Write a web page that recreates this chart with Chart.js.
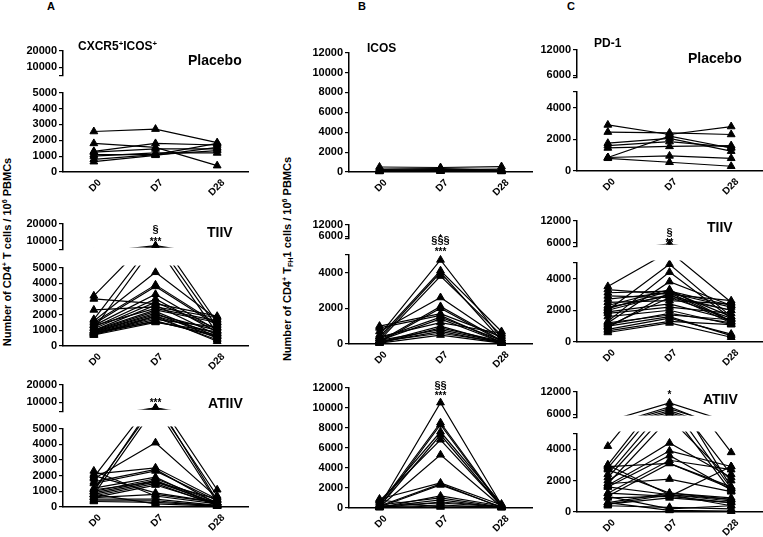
<!DOCTYPE html>
<html><head><meta charset="utf-8">
<script src="https://cdn.jsdelivr.net/npm/chart.js@4.4.1/dist/chart.umd.min.js"></script>
<style>
html,body{margin:0;padding:0;background:#fff;width:763px;height:537px;overflow:hidden;position:relative;
  font-family:Arial,"Liberation Sans",sans-serif;font-weight:bold;color:#000}
canvas{position:absolute}
.t{position:absolute;white-space:nowrap;line-height:1;color:#000}
.c{transform:translateX(-50%)}
sup{font-size:0.65em;vertical-align:0;position:relative;top:-0.55em}
sub{font-size:0.65em;vertical-align:0;position:relative;top:0.3em}
</style></head><body>
<script>
// time points
const days = ['D0', 'D7', 'D28'];

// one row per subject: [D0, D7, D28]
// A: CXCR5+ICOS+
const aPlacebo = [
  [2550, 2700, 1850], [1800, 1550, 400], [1300, 1800, 1700], [1250, 1450, 1450],
  [1100, 1100, 1800], [1000, 1200, 1200], [800, 1100, 1350], [650, 1050, 1550]
];
const aTIIV = [
  [3200, 7200, 1500], [3000, 2700, 1900], [2300, 2500, 1800], [1700, 6800, 1200],
  [1600, 4700, 1700], [1500, 3900, 1400], [1400, 3800, 1300], [1300, 3300, 1000],
  [1200, 3000, 900], [1100, 2800, 1100], [1100, 6500, 800], [1000, 2600, 700],
  [1000, 2300, 1500], [950, 2200, 600], [900, 2100, 500], [900, 2000, 1000],
  [850, 1900, 800], [800, 1800, 400], [800, 1700, 1200], [750, 1600, 600],
  [700, 1500, 900], [700, 1900, 300], [1300, 2400, 1600], [850, 1550, 700]
];
const aATIIV = [
  [1900, 7000, 1100], [1100, 6600, 700], [1000, 6800, 400], [800, 6400, 300],
  [1800, 4100, 600], [2300, 700, 200], [2100, 2500, 500], [2000, 900, 300],
  [1600, 2400, 200], [1500, 2300, 400], [1200, 1900, 100], [1000, 1800, 300],
  [900, 1700, 150], [800, 1600, 250], [700, 1500, 100], [600, 1400, 200],
  [500, 500, 100], [400, 400, 50], [350, 300, 100], [800, 200, 50],
  [1100, 1600, 500], [600, 800, 300]
];
// B: ICOS (TFH1)
const bPlacebo = [
  [500, 450, 550], [300, 350, 200], [200, 250, 300], [150, 150, 100],
  [100, 100, 150], [50, 80, 50], [100, 200, 100], [250, 300, 200]
];
const bTIIV = [
  [500, 4700, 300], [400, 4100, 700], [300, 4000, 200], [200, 3800, 500],
  [700, 2600, 300], [150, 2100, 200], [100, 2000, 150], [1000, 1700, 400],
  [900, 1600, 100], [300, 1500, 200], [200, 1400, 100], [100, 1000, 50],
  [50, 900, 150], [200, 800, 100], [100, 700, 50], [150, 600, 100],
  [50, 500, 50], [400, 1200, 600]
];
const bATIIV = [
  [200, 10500, 300], [300, 8500, 200], [100, 8300, 100], [500, 7600, 400],
  [150, 7300, 150], [700, 6800, 200], [100, 5300, 100], [900, 2500, 300],
  [200, 2400, 50], [100, 2300, 100], [50, 1200, 200], [300, 1000, 100],
  [100, 800, 50], [50, 600, 150], [200, 500, 100], [100, 300, 50],
  [50, 200, 100], [800, 100, 50]
];
// C: PD-1
const cPlacebo = [
  [2900, 2300, 2800], [2450, 2400, 2300], [1750, 2050, 1250], [1600, 1850, 1500],
  [1450, 1550, 1600], [850, 2200, 1450], [850, 950, 800], [800, 550, 300]
];
const cTIIV = [
  [3500, 5700, 2500], [3300, 3000, 2600], [3100, 3200, 2300], [2900, 2800, 1500],
  [2700, 3100, 2200], [2500, 2600, 2400], [2300, 3300, 1300], [2200, 2900, 2000],
  [2000, 4900, 1600], [2000, 3000, 1200], [1900, 2400, 1400], [1800, 2200, 1800],
  [1600, 2000, 1100], [1300, 4400, 1500], [1200, 3800, 2300], [1100, 1800, 1200],
  [1000, 1600, 400], [900, 3100, 1300], [800, 1500, 500], [700, 1300, 1100],
  [600, 1200, 300], [1000, 2800, 2000], [1200, 1700, 1400], [2100, 3200, 1600]
];
const cATIIV = [
  [4200, 9000, 3800], [3000, 8000, 1600], [2800, 7500, 2400], [2400, 7000, 1500],
  [2200, 6500, 1300], [1800, 6000, 2000], [2000, 4400, 2200], [1700, 3900, 2900],
  [1600, 3600, 1400], [1200, 3300, 2700], [1000, 3100, 1500], [2900, 3100, 1600],
  [1800, 2100, 1300], [2700, 1200, 900], [3000, 1100, 700], [900, 1000, 2900],
  [600, 1200, 800], [500, 900, 600], [400, 300, 200], [1000, 200, 400],
  [600, 100, 50], [1600, 1100, 800], [1200, 1000, 600], [500, 1100, 400]
];

// tick labels
const aLowTicks = [0, 1000, 2000, 3000, 4000, 5000];
const aHighTicks = [10000, 20000];
const bTicks = [0, 2000, 4000, 6000, 8000, 10000, 12000];
const bLowTicks = [0, 2000, 4000];
const bHighTicks = [6000, 12000];
const cLowTicks = [0, 2000, 4000];
const cHighTicks = [6000, 12000];

Chart.defaults.font.family = 'Arial, "Liberation Sans", sans-serif';
Chart.defaults.font.weight = 'bold';
Chart.defaults.color = '#000';

const Y_W = 44, PAD_T = 7, X_H = 30;
const CLIP_LOW = {left: 8, right: 8, top: 2, bottom: 8};
const CLIP_HIGH = {left: 8, right: 8, top: 8, bottom: -2};
const CLIP_ALL = 8;

// one axis segment = one small chart
function seg(subjects, col, s, showX) {
  const [axisX, right] = col;
  const padB = showX ? 0 : 2;
  const w = Y_W + (right - axisX) + 8;
  const h = PAD_T + (s.bottom - s.top) + (showX ? X_H : 0) + padB;
  const cv = document.createElement('canvas');
  cv.width = w; cv.height = h;
  cv.style.width = w + 'px'; cv.style.height = h + 'px';
  cv.style.left = (axisX - Y_W) + 'px';
  cv.style.top = (s.top - PAD_T) + 'px';
  document.body.appendChild(cv);
  const allTicks = s.ticks.concat(s.extra || []);
  new Chart(cv, {
    type: 'line',
    data: {
      labels: days,
      datasets: subjects.map(v => ({
        data: v, borderColor: '#000', borderWidth: 1.2,
        pointStyle: 'triangle', pointRadius: 4.5, pointBackgroundColor: '#000',
        pointBorderColor: '#000', pointBorderWidth: 1, clip: s.clip
      }))
    },
    options: {
      responsive: false, animation: false, events: [],
      layout: {autoPadding: false, padding: {top: PAD_T, left: 0, right: 8, bottom: padB}},
      plugins: {legend: {display: false}, tooltip: {enabled: false}},
      scales: {
        x: {
          display: showX, offset: true,
          grid: {display: false},
          border: {color: '#000', width: 1.5},
          ticks: {font: {size: 10, weight: 'bold'}, color: '#000', minRotation: 45, maxRotation: 45,
                  padding: -3, labelOffset: 6, autoSkip: false},
          afterFit(sc) { if (showX) sc.height = X_H; }
        },
        y: {
          min: s.min, max: s.max,
          grid: {drawOnChartArea: false, color: '#000', tickLength: 4, lineWidth: 1.2},
          border: {color: '#000', width: 1.5},
          ticks: {font: {size: 11, weight: 'bold'}, color: '#000', padding: 2, autoSkip: false,
                  callback: v => s.ticks.includes(v) ? String(v) : ''},
          afterBuildTicks(sc) { sc.ticks = allTicks.map(v => ({value: v})); },
          afterFit(sc) { sc.width = Y_W; }
        }
      }
    }
  });
}

function panel(subjects, col, segs) {
  segs.forEach((s, i) => seg(subjects, col, s, i === segs.length - 1));
}

const colA = [63, 248], colB = [349, 532], colC = [577, 762];

// row 1: Placebo
panel(aPlacebo, colA, [
  {min: 5000, max: 20000, top: 49, bottom: 82, ticks: aHighTicks, extra: [5000], clip: CLIP_HIGH},
  {min: 0, max: 5000, top: 91, bottom: 172, ticks: aLowTicks, clip: CLIP_LOW}
]);
panel(bPlacebo, colB, [
  {min: 0, max: 12000, top: 51, bottom: 172, ticks: bTicks, clip: CLIP_ALL}
]);
panel(cPlacebo, colC, [
  {min: 5500, max: 12000, top: 48, bottom: 84, ticks: cHighTicks, extra: [5500], clip: CLIP_HIGH},
  {min: 0, max: 5000, top: 90, bottom: 171, ticks: cLowTicks, extra: [5000], clip: CLIP_LOW}
]);
// row 2: TIIV
panel(aTIIV, colA, [
  {min: 5000, max: 20000, top: 222, bottom: 256, ticks: aHighTicks, extra: [5000], clip: CLIP_HIGH},
  {min: 0, max: 5000, top: 266, bottom: 346, ticks: aLowTicks, clip: CLIP_LOW}
]);
panel(bTIIV, colB, [
  {min: 5000, max: 12000, top: 223, bottom: 245, ticks: bHighTicks, extra: [5000], clip: CLIP_HIGH},
  {min: 0, max: 5000, top: 253, bottom: 344, ticks: bLowTicks, extra: [5000], clip: CLIP_LOW}
]);
panel(cTIIV, colC, [
  {min: 5000, max: 12000, top: 219, bottom: 253, ticks: cHighTicks, extra: [5000], clip: CLIP_HIGH},
  {min: 0, max: 5000, top: 261, bottom: 342, ticks: cLowTicks, extra: [5000], clip: CLIP_LOW}
]);
// row 3: ATIIV
panel(aATIIV, colA, [
  {min: 5000, max: 20000, top: 383, bottom: 418, ticks: aHighTicks, extra: [5000], clip: CLIP_HIGH},
  {min: 0, max: 5000, top: 427, bottom: 507, ticks: aLowTicks, clip: CLIP_LOW}
]);
panel(bATIIV, colB, [
  {min: 0, max: 12000, top: 386, bottom: 508, ticks: bTicks, clip: CLIP_ALL}
]);
panel(cATIIV, colC, [
  {min: 5200, max: 12000, top: 390, bottom: 424, ticks: cHighTicks, extra: [5200], clip: CLIP_HIGH},
  {min: 0, max: 5000, top: 432, bottom: 512, ticks: cLowTicks, extra: [5000], clip: CLIP_LOW}
]);

// texts
function txt(html, x, y, size, center) {
  const d = document.createElement('div');
  d.className = 't' + (center ? ' c' : '');
  d.style.left = x + 'px'; d.style.top = y + 'px'; d.style.fontSize = size + 'px';
  d.innerHTML = html;
  document.body.appendChild(d);
  return d;
}
txt('A', 47, 1, 11); txt('B', 358, 1, 11); txt('C', 567, 1, 11);
txt('CXCR5<sup>+</sup>ICOS<sup>+</sup>', 78, 40, 12);
txt('ICOS', 367, 42, 12);
txt('PD-1', 594, 37, 12);
txt('Placebo', 188, 53, 14); txt('Placebo', 688, 51, 14);
txt('TIIV', 207, 225, 14); txt('TIIV', 707, 220, 14);
txt('ATIIV', 208, 396, 14); txt('ATIIV', 703, 392, 14);
// significance marks
txt('§', 155.5, 224, 11, true); txt('***', 155.5, 237, 10, true);
txt('***', 155.5, 398, 10, true);
txt('§§§', 440.5, 235, 11, true); txt('***', 440.5, 247, 10, true);
txt('§§', 440.5, 380, 11, true); txt('***', 440.5, 391, 10, true);
txt('§', 669.5, 227, 11, true); txt('**', 669.5, 238, 10, true);
txt('*', 669.5, 390, 10, true);
// y axis titles
const t1 = txt('Number of CD4<sup>+</sup> T cells / 10<sup>6</sup> PBMCs', 8, 252, 11);
t1.style.transform = 'translate(-50%,-50%) rotate(-90deg)';
const t2 = txt('Number of CD4<sup>+</sup> T<sub>FH</sub>1 cells / 10<sup>6</sup> PBMCs', 288, 259, 11);
t2.style.transform = 'translate(-50%,-50%) rotate(-90deg)';
</script>
</body></html>
